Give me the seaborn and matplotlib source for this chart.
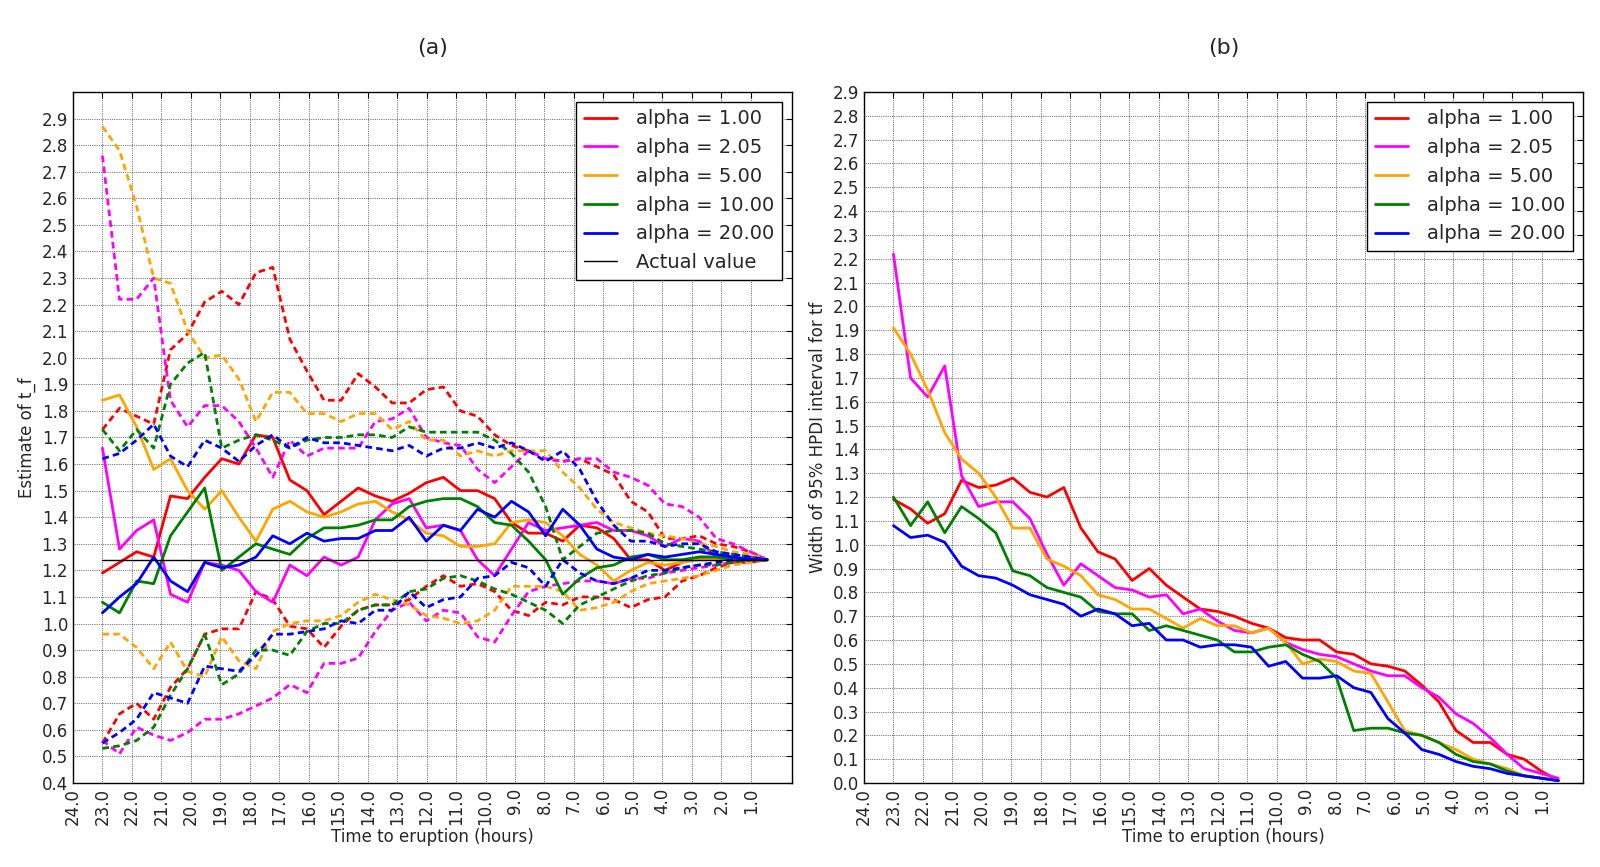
import numpy as np
import pandas as pd
import matplotlib
matplotlib.use('Agg')
import matplotlib.pyplot as plt
from matplotlib.lines import Line2D
import seaborn as sns

# ---------------------------------------------------------------
# data
times = [23.00, 22.42, 21.84, 21.26, 20.69, 20.11, 19.53, 18.95, 18.37, 17.79,
         17.22, 16.64, 16.06, 15.48, 14.90, 14.32, 13.74, 13.17, 12.59, 12.01,
         11.43, 10.85, 10.27, 9.69, 9.12, 8.54, 7.96, 7.38, 6.80, 6.22,
         5.65, 5.07, 4.49, 3.91, 3.33, 2.75, 2.17, 1.60, 1.02, 0.44]

alphas = ['alpha = 1.00', 'alpha = 2.05', 'alpha = 5.00', 'alpha = 10.00', 'alpha = 20.00']
colors = ['red', 'magenta', 'orange', 'green', 'blue']
actual_value = 1.24

# panel (a): point estimate of t_f
est_red = [1.19, 1.23, 1.27, 1.25, 1.48, 1.47, 1.55, 1.62, 1.60, 1.71, 1.70, 1.54, 1.50, 1.41, 1.46, 1.51, 1.48, 1.46, 1.49, 1.53,
           1.55, 1.50, 1.50, 1.47, 1.38, 1.34, 1.34, 1.31, 1.37, 1.36, 1.32, 1.24, 1.24, 1.20, 1.23, 1.25, 1.25, 1.25, 1.24, 1.24]
est_mag = [1.66, 1.28, 1.35, 1.39, 1.11, 1.08, 1.23, 1.22, 1.20, 1.12, 1.08, 1.22, 1.18, 1.25, 1.22, 1.25, 1.39, 1.45, 1.47, 1.36,
           1.37, 1.35, 1.24, 1.18, 1.28, 1.38, 1.35, 1.36, 1.37, 1.38, 1.35, 1.35, 1.33, 1.29, 1.32, 1.31, 1.25, 1.24, 1.25, 1.24]
est_ora = [1.84, 1.86, 1.74, 1.58, 1.62, 1.50, 1.43, 1.50, 1.40, 1.31, 1.43, 1.46, 1.42, 1.40, 1.42, 1.45, 1.46, 1.42, 1.39, 1.34,
           1.33, 1.29, 1.29, 1.30, 1.38, 1.39, 1.38, 1.33, 1.26, 1.22, 1.16, 1.20, 1.23, 1.22, 1.23, 1.24, 1.24, 1.24, 1.24, 1.24]
est_grn = [1.08, 1.04, 1.16, 1.15, 1.33, 1.42, 1.51, 1.20, 1.25, 1.30, 1.28, 1.26, 1.32, 1.36, 1.36, 1.37, 1.39, 1.39, 1.44, 1.46,
           1.47, 1.47, 1.44, 1.38, 1.37, 1.31, 1.24, 1.11, 1.17, 1.21, 1.22, 1.25, 1.26, 1.24, 1.24, 1.25, 1.25, 1.24, 1.24, 1.24]
est_blu = [1.04, 1.10, 1.15, 1.25, 1.16, 1.12, 1.23, 1.21, 1.22, 1.25, 1.33, 1.30, 1.34, 1.31, 1.32, 1.32, 1.35, 1.35, 1.40, 1.31,
           1.37, 1.35, 1.43, 1.40, 1.46, 1.42, 1.33, 1.43, 1.37, 1.28, 1.25, 1.24, 1.26, 1.25, 1.26, 1.27, 1.26, 1.25, 1.24, 1.24]

# upper bound of the interval (dashed)
up_red = [1.73, 1.81, 1.78, 1.75, 2.03, 2.09, 2.21, 2.25, 2.20, 2.32, 2.34, 2.07, 1.95, 1.84, 1.84, 1.94, 1.89, 1.83, 1.83, 1.88,
          1.89, 1.80, 1.78, 1.71, 1.67, 1.65, 1.62, 1.61, 1.62, 1.59, 1.56, 1.46, 1.42, 1.32, 1.32, 1.33, 1.30, 1.29, 1.27, 1.24]
up_mag = [2.76, 2.22, 2.22, 2.30, 1.84, 1.74, 1.82, 1.82, 1.76, 1.66, 1.55, 1.69, 1.63, 1.66, 1.66, 1.66, 1.76, 1.77, 1.81, 1.70,
          1.68, 1.67, 1.58, 1.53, 1.59, 1.65, 1.62, 1.61, 1.62, 1.62, 1.57, 1.55, 1.52, 1.45, 1.44, 1.40, 1.32, 1.30, 1.27, 1.24]
up_ora = [2.87, 2.78, 2.57, 2.30, 2.28, 2.10, 2.00, 2.01, 1.92, 1.76, 1.87, 1.87, 1.79, 1.79, 1.76, 1.79, 1.79, 1.73, 1.76, 1.69,
          1.69, 1.63, 1.65, 1.63, 1.65, 1.65, 1.65, 1.57, 1.51, 1.43, 1.38, 1.36, 1.34, 1.33, 1.32, 1.30, 1.29, 1.27, 1.26, 1.24]
up_grn = [1.73, 1.65, 1.73, 1.66, 1.90, 1.98, 2.02, 1.66, 1.69, 1.71, 1.69, 1.66, 1.69, 1.70, 1.70, 1.71, 1.71, 1.70, 1.74, 1.72,
          1.72, 1.72, 1.72, 1.69, 1.64, 1.57, 1.44, 1.24, 1.29, 1.34, 1.35, 1.35, 1.34, 1.30, 1.29, 1.28, 1.27, 1.26, 1.25, 1.24]
up_blu = [1.62, 1.64, 1.69, 1.75, 1.63, 1.59, 1.69, 1.66, 1.61, 1.67, 1.71, 1.66, 1.70, 1.68, 1.68, 1.67, 1.66, 1.65, 1.67, 1.63,
          1.66, 1.66, 1.68, 1.66, 1.68, 1.65, 1.61, 1.65, 1.58, 1.46, 1.37, 1.31, 1.31, 1.29, 1.30, 1.30, 1.27, 1.26, 1.25, 1.24]

# lower bound of the interval (dashed)
lo_red = [0.55, 0.66, 0.70, 0.64, 0.76, 0.83, 0.96, 0.98, 0.98, 1.12, 1.09, 0.99, 0.98, 0.91, 0.99, 1.05, 1.07, 1.07, 1.09, 1.14,
          1.18, 1.14, 1.15, 1.12, 1.05, 1.03, 1.08, 1.07, 1.10, 1.10, 1.09, 1.06, 1.09, 1.10, 1.16, 1.18, 1.21, 1.23, 1.23, 1.24]
lo_mag = [0.56, 0.51, 0.61, 0.58, 0.56, 0.59, 0.64, 0.64, 0.66, 0.69, 0.72, 0.77, 0.74, 0.85, 0.85, 0.87, 0.97, 1.05, 1.08, 1.01,
          1.05, 1.04, 0.95, 0.93, 1.03, 1.12, 1.14, 1.15, 1.16, 1.16, 1.15, 1.17, 1.17, 1.19, 1.20, 1.21, 1.22, 1.23, 1.24, 1.24]
lo_ora = [0.96, 0.96, 0.91, 0.83, 0.93, 0.82, 0.80, 0.95, 0.86, 0.83, 0.97, 1.00, 1.01, 1.01, 1.03, 1.08, 1.11, 1.09, 1.07, 1.03,
          1.02, 1.00, 1.01, 1.05, 1.14, 1.14, 1.14, 1.12, 1.05, 1.06, 1.08, 1.12, 1.15, 1.16, 1.17, 1.18, 1.20, 1.22, 1.23, 1.24]
lo_grn = [0.53, 0.54, 0.56, 0.61, 0.73, 0.83, 0.96, 0.77, 0.81, 0.90, 0.90, 0.88, 0.97, 1.00, 1.00, 1.05, 1.07, 1.07, 1.12, 1.13,
          1.17, 1.18, 1.16, 1.13, 1.11, 1.08, 1.05, 1.00, 1.07, 1.10, 1.13, 1.16, 1.18, 1.19, 1.21, 1.22, 1.22, 1.23, 1.24, 1.24]
lo_blu = [0.55, 0.59, 0.64, 0.74, 0.72, 0.70, 0.84, 0.83, 0.82, 0.88, 0.96, 0.96, 0.97, 0.98, 1.01, 1.00, 1.05, 1.05, 1.12, 1.06,
          1.09, 1.10, 1.17, 1.18, 1.23, 1.21, 1.14, 1.24, 1.19, 1.16, 1.15, 1.17, 1.20, 1.20, 1.21, 1.22, 1.23, 1.24, 1.24, 1.24]

# panel (b): width of 95% HPDI
w_red = [1.19, 1.15, 1.09, 1.13, 1.27, 1.24, 1.25, 1.28, 1.22, 1.20, 1.24, 1.07, 0.97, 0.94, 0.85, 0.90, 0.83, 0.78, 0.73, 0.72,
         0.70, 0.67, 0.65, 0.61, 0.60, 0.60, 0.55, 0.54, 0.50, 0.49, 0.47, 0.41, 0.34, 0.22, 0.17, 0.17, 0.12, 0.10, 0.05, 0.01]
w_mag = [2.22, 1.70, 1.62, 1.75, 1.29, 1.16, 1.18, 1.18, 1.11, 0.96, 0.83, 0.92, 0.87, 0.82, 0.81, 0.78, 0.79, 0.71, 0.73, 0.68,
         0.64, 0.63, 0.65, 0.59, 0.56, 0.54, 0.53, 0.50, 0.47, 0.45, 0.45, 0.40, 0.36, 0.29, 0.25, 0.19, 0.12, 0.06, 0.04, 0.02]
w_ora = [1.91, 1.80, 1.65, 1.47, 1.36, 1.30, 1.20, 1.07, 1.07, 0.94, 0.91, 0.87, 0.79, 0.77, 0.73, 0.73, 0.69, 0.65, 0.69, 0.66,
         0.66, 0.63, 0.65, 0.59, 0.50, 0.52, 0.51, 0.47, 0.46, 0.34, 0.22, 0.20, 0.17, 0.14, 0.10, 0.08, 0.06, 0.03, 0.02, 0.01]
w_grn = [1.20, 1.08, 1.18, 1.05, 1.16, 1.11, 1.05, 0.89, 0.87, 0.82, 0.80, 0.78, 0.72, 0.71, 0.71, 0.64, 0.66, 0.64, 0.62, 0.60,
         0.55, 0.55, 0.57, 0.58, 0.54, 0.51, 0.44, 0.22, 0.23, 0.23, 0.21, 0.20, 0.17, 0.12, 0.09, 0.08, 0.05, 0.03, 0.02, 0.01]
w_blu = [1.08, 1.03, 1.04, 1.01, 0.91, 0.87, 0.86, 0.83, 0.79, 0.77, 0.75, 0.70, 0.73, 0.71, 0.66, 0.67, 0.60, 0.60, 0.57, 0.58,
         0.58, 0.57, 0.49, 0.51, 0.44, 0.44, 0.45, 0.40, 0.38, 0.27, 0.21, 0.14, 0.12, 0.09, 0.07, 0.06, 0.04, 0.03, 0.02, 0.01]

est = [est_red, est_mag, est_ora, est_grn, est_blu]
upper = [up_red, up_mag, up_ora, up_grn, up_blu]
lower = [lo_red, lo_mag, lo_ora, lo_grn, lo_blu]
width = [w_red, w_mag, w_ora, w_grn, w_blu]

# ---------------------------------------------------------------
# long-form tables for seaborn
rows_a = []
for a, e, u, l in zip(alphas, est, upper, lower):
    for kind, vals in (('est', e), ('upper', u), ('lower', l)):
        for t, v in zip(times, vals):
            rows_a.append((a, kind, t, v))
df_a = pd.DataFrame(rows_a, columns=['alpha', 'kind', 'time', 'value'])

rows_b = []
for a, w in zip(alphas, width):
    for t, v in zip(times, w):
        rows_b.append((a, t, v))
df_b = pd.DataFrame(rows_b, columns=['alpha', 'time', 'value'])

palette = dict(zip(alphas, colors))

# ---------------------------------------------------------------
sns.set_theme(style='white')
plt.rcParams['font.family'] = ['DejaVu Sans']
plt.rcParams['axes.edgecolor'] = 'black'
plt.rcParams['axes.linewidth'] = 1.0

fig = plt.figure(figsize=(16, 8.67), dpi=100)
ax_a = fig.add_axes([0.0456, 0.0969, 0.4494, 0.797])
ax_b = fig.add_axes([0.540, 0.0969, 0.4494, 0.797])

dash = (2.4, 1.5)
sns.lineplot(data=df_a, x='time', y='value', hue='alpha', style='kind',
             palette=palette, dashes={'est': '', 'upper': dash, 'lower': dash},
             estimator=None, sort=False, linewidth=2, legend=False, ax=ax_a)
sns.lineplot(x=[times[0], times[-1]], y=[actual_value, actual_value],
             color='black', linewidth=1, ax=ax_a)

sns.lineplot(data=df_b, x='time', y='value', hue='alpha', palette=palette,
             estimator=None, sort=False, linewidth=2, legend=False, ax=ax_b)

for ax in (ax_a, ax_b):
    ax.set_xlim(24, -0.4)
    xt = np.arange(24, 0, -1)
    ax.set_xticks(xt)
    ax.set_xticklabels(['%.1f' % v for v in xt], rotation=90, fontsize=12)
    ax.tick_params(axis='both', direction='in', top=True, right=True,
                   length=4.5, width=0.8, labelsize=12, color='black')
    ax.grid(True, linestyle=':', color='black', linewidth=0.5)
    ax.set_xlabel('Time to eruption (hours)', fontsize=12, labelpad=2)
    for s in ax.spines.values():
        s.set_color('black')

ax_a.set_ylim(0.4, 3.0)
yt_a = np.round(np.arange(0.4, 2.95, 0.1), 1)
ax_a.set_yticks(yt_a)
ax_a.set_yticklabels(['%.1f' % v for v in yt_a])
ax_a.set_ylabel('Estimate of t_f', fontsize=12)
ax_a.set_title('(a)', fontsize=16, pad=27)

ax_b.set_ylim(0.0, 2.9)
yt_b = np.round(np.arange(0.0, 2.95, 0.1), 1)
ax_b.set_yticks(yt_b)
ax_b.set_yticklabels(['%.1f' % v for v in yt_b])
ax_b.set_ylabel('Width of 95% HPDI interval for tf', fontsize=12)
ax_b.set_title('(b)', fontsize=16, pad=27)

# legends
handles = [Line2D([], [], color=c, lw=2) for c in colors]
leg_kw = dict(loc='upper right', fontsize=14, fancybox=False, framealpha=1,
              edgecolor='black', handlelength=1.7, handletextpad=1.0,
              labelspacing=0.5, borderaxespad=0.5)
leg_a = ax_a.legend(handles + [Line2D([], [], color='black', lw=1)],
                    alphas + ['Actual value'], **leg_kw)
leg_b = ax_b.legend(handles, alphas, **leg_kw)
for leg in (leg_a, leg_b):
    leg.get_frame().set_linewidth(1.0)

fig.savefig('out.png', dpi=100)
